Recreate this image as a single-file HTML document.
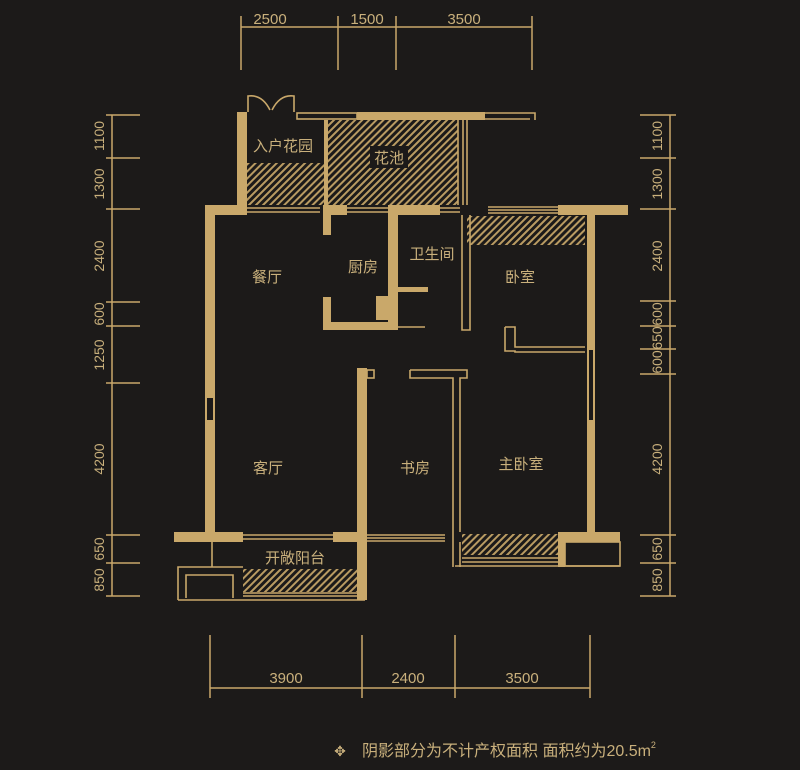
<!DOCTYPE html>
<html><head><meta charset="utf-8"><style>
html,body{margin:0;padding:0;background:#1c1a19;}
svg{display:block}
text{font-family:"Liberation Sans","Noto Sans CJK SC",sans-serif;fill:#c9b07c}
</style></head><body>
<svg width="800" height="770" viewBox="0 0 800 770" xmlns="http://www.w3.org/2000/svg">
<defs>
<pattern id="h" patternUnits="userSpaceOnUse" width="5" height="5" patternTransform="rotate(45)">
<rect width="5" height="5" fill="#1c1a19"/><rect width="2" height="5" fill="#b99b62"/>
</pattern>
</defs>
<rect width="800" height="770" fill="#1c1a19"/>
<g stroke="#c9a86a" stroke-width="1.5" fill="none">
<!-- top ruler -->
<line x1="241" y1="27" x2="532" y2="27"/>
<line x1="241" y1="16" x2="241" y2="70"/><line x1="338" y1="16" x2="338" y2="70"/>
<line x1="396" y1="16" x2="396" y2="70"/><line x1="532" y1="16" x2="532" y2="70"/>
<!-- left ruler -->
<line x1="112" y1="115" x2="112" y2="596"/>
<g>
<line x1="106" y1="115" x2="140" y2="115"/><line x1="106" y1="158" x2="140" y2="158"/>
<line x1="106" y1="209" x2="140" y2="209"/><line x1="106" y1="302" x2="140" y2="302"/>
<line x1="106" y1="326" x2="140" y2="326"/><line x1="106" y1="383" x2="140" y2="383"/>
<line x1="106" y1="535" x2="140" y2="535"/><line x1="106" y1="563" x2="140" y2="563"/>
<line x1="106" y1="596" x2="140" y2="596"/>
</g>
<!-- right ruler -->
<line x1="670" y1="115" x2="670" y2="596"/>
<line x1="640" y1="115" x2="676" y2="115"/><line x1="640" y1="158" x2="676" y2="158"/>
<line x1="640" y1="209" x2="676" y2="209"/><line x1="640" y1="301" x2="676" y2="301"/>
<line x1="640" y1="326" x2="676" y2="326"/><line x1="640" y1="349" x2="676" y2="349"/>
<line x1="640" y1="374" x2="676" y2="374"/><line x1="640" y1="535" x2="676" y2="535"/>
<line x1="640" y1="563" x2="676" y2="563"/><line x1="640" y1="596" x2="676" y2="596"/>
<!-- bottom ruler -->
<line x1="210" y1="688" x2="590" y2="688"/>
<line x1="210" y1="635" x2="210" y2="698"/><line x1="362" y1="635" x2="362" y2="698"/>
<line x1="455" y1="635" x2="455" y2="698"/><line x1="590" y1="635" x2="590" y2="698"/>
</g>
<g font-size="15">
<text x="270" y="24" text-anchor="middle">2500</text>
<text x="367" y="24" text-anchor="middle">1500</text>
<text x="464" y="24" text-anchor="middle">3500</text>
<text x="286" y="683" text-anchor="middle">3900</text>
<text x="408" y="683" text-anchor="middle">2400</text>
<text x="522" y="683" text-anchor="middle">3500</text>
</g>
<g font-size="14">
<text transform="translate(104,136) rotate(-90)" text-anchor="middle">1100</text>
<text transform="translate(104,184) rotate(-90)" text-anchor="middle">1300</text>
<text transform="translate(104,256) rotate(-90)" text-anchor="middle">2400</text>
<text transform="translate(104,314) rotate(-90)" text-anchor="middle">600</text>
<text transform="translate(104,355) rotate(-90)" text-anchor="middle">1250</text>
<text transform="translate(104,459) rotate(-90)" text-anchor="middle">4200</text>
<text transform="translate(104,549) rotate(-90)" text-anchor="middle">650</text>
<text transform="translate(104,580) rotate(-90)" text-anchor="middle">850</text>
<text transform="translate(662,136) rotate(-90)" text-anchor="middle">1100</text>
<text transform="translate(662,184) rotate(-90)" text-anchor="middle">1300</text>
<text transform="translate(662,256) rotate(-90)" text-anchor="middle">2400</text>
<text transform="translate(662,314) rotate(-90)" text-anchor="middle">600</text>
<text transform="translate(662,338) rotate(-90)" text-anchor="middle">650</text>
<text transform="translate(662,362) rotate(-90)" text-anchor="middle">600</text>
<text transform="translate(662,459) rotate(-90)" text-anchor="middle">4200</text>
<text transform="translate(662,549) rotate(-90)" text-anchor="middle">650</text>
<text transform="translate(662,580) rotate(-90)" text-anchor="middle">850</text>
</g>
<!-- hatches -->
<rect x="328" y="120" width="130" height="85" fill="url(#h)"/>
<rect x="247" y="163" width="77" height="42" fill="url(#h)"/>
<rect x="467" y="216" width="118" height="29" fill="url(#h)"/>
<rect x="462" y="534" width="96" height="21" fill="url(#h)"/>
<rect x="243" y="569" width="114" height="23" fill="url(#h)"/>
<g fill="#c9a86a">
<!-- entry garden -->
<rect x="237" y="112" width="10" height="98"/>
<rect x="357" y="112" width="128" height="8"/>
<rect x="324" y="120" width="4" height="85"/>
<!-- main walls -->
<rect x="205" y="205" width="42" height="10"/>
<rect x="388" y="205" width="52" height="10"/>
<rect x="558" y="205" width="70" height="10"/>
<rect x="205" y="205" width="10" height="337"/>
<rect x="323" y="205" width="24" height="10"/>
<rect x="323" y="215" width="8" height="20"/>
<rect x="388" y="215" width="10" height="115"/>
<rect x="323" y="297" width="8" height="33"/>
<rect x="323" y="322" width="65" height="8"/>
<rect x="587" y="215" width="8" height="317"/>
<rect x="174" y="532" width="69" height="10"/>
<rect x="333" y="532" width="34" height="10"/>
<rect x="357" y="368" width="10" height="232"/>
<rect x="558" y="532" width="62" height="10"/>
<rect x="558" y="542" width="7" height="25"/>
<rect x="398" y="287" width="30" height="5"/>
<rect x="376" y="296" width="14" height="24"/>
</g>
<g stroke="#c9a86a" stroke-width="1.6" fill="none">
<!-- doors -->
<path d="M248 112 V96 Q262 94 270 110 M294 112 V96 Q280 94 272 110"/>
<!-- thin top sections -->
<rect x="297" y="113" width="60" height="6"/>
<path d="M485 113 H535 V120 M485 119 H530"/>
<line x1="458" y1="120" x2="458" y2="205"/><line x1="463" y1="120" x2="463" y2="205"/><line x1="467" y1="120" x2="467" y2="205"/>
<line x1="247" y1="208" x2="320" y2="208"/><line x1="247" y1="212" x2="320" y2="212"/>
<line x1="347" y1="208" x2="388" y2="208"/><line x1="347" y1="212" x2="388" y2="212"/>
<line x1="440" y1="208" x2="460" y2="208"/><line x1="440" y1="212" x2="460" y2="212"/>
<line x1="488" y1="207" x2="558" y2="207"/><line x1="488" y1="210" x2="558" y2="210"/><line x1="488" y1="213" x2="558" y2="213"/>
<!-- bathroom right wall -->
<path d="M462 215 V330 H470 V215"/>
<line x1="398" y1="327" x2="425" y2="327"/>
<!-- closet -->
<path d="M505 327 H515 V347 H585 M505 327 V351 H515 V352 H585"/>
<!-- study -->
<path d="M410 370 H467 V378 H460 V532 M410 370 V378 H453 V532"/>
<rect x="367" y="370" width="7" height="8"/>
<line x1="453" y1="532" x2="453" y2="567"/><line x1="460" y1="542" x2="460" y2="567"/>
<line x1="367" y1="535" x2="445" y2="535"/><line x1="367" y1="538" x2="445" y2="538"/><line x1="367" y1="541" x2="445" y2="541"/>
<line x1="243" y1="535" x2="333" y2="535"/><line x1="243" y1="539" x2="333" y2="539"/>
<line x1="462" y1="558" x2="558" y2="558"/><line x1="462" y1="562" x2="558" y2="562"/><line x1="455" y1="566" x2="620" y2="566"/>
<rect x="565" y="542" width="55" height="24"/>
<!-- balcony -->
<path d="M178 600 V567 H243 M186 598 V575 H233 V598"/>
<line x1="178" y1="600" x2="365" y2="600"/>
<line x1="243" y1="593" x2="357" y2="593"/><line x1="243" y1="596" x2="357" y2="596"/>
<line x1="212" y1="542" x2="212" y2="567"/>
</g>
<rect x="207" y="398" width="6" height="22" fill="#1c1a19"/>
<rect x="589" y="350" width="4" height="70" fill="#1c1a19"/>
<g font-size="15">
<text x="283" y="151" text-anchor="middle">入户花园</text>
<rect x="370" y="146" width="38" height="22" fill="#1c1a19"/>
<text x="389" y="163" text-anchor="middle">花池</text>
<text x="432" y="259" text-anchor="middle">卫生间</text>
<text x="267" y="282" text-anchor="middle">餐厅</text>
<text x="363" y="272" text-anchor="middle">厨房</text>
<text x="520" y="282" text-anchor="middle">卧室</text>
<text x="268" y="473" text-anchor="middle">客厅</text>
<text x="415" y="473" text-anchor="middle">书房</text>
<text x="521" y="469" text-anchor="middle">主卧室</text>
<text x="295" y="563" text-anchor="middle">开敞阳台</text>
</g>
<text x="340" y="756" font-size="14" text-anchor="middle">✥</text>
<text x="362" y="756" font-size="16">阴影部分为不计产权面积  面积约为20.5m<tspan font-size="9" dy="-8">2</tspan></text>
</svg>
</body></html>
